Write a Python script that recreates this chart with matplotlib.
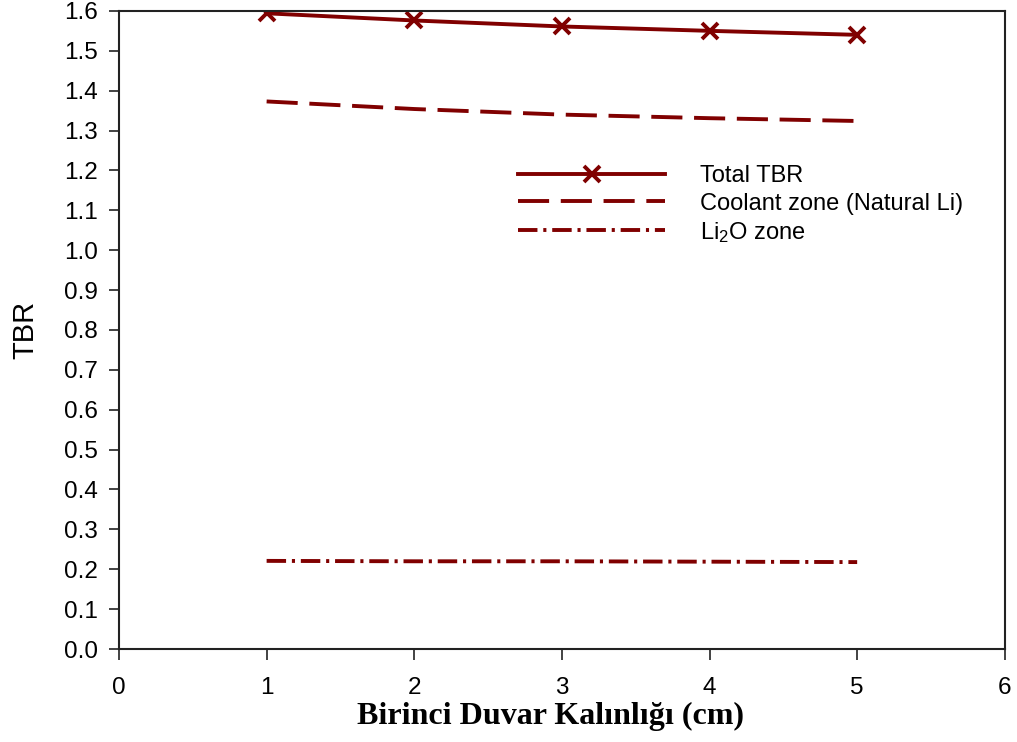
import matplotlib
matplotlib.use("Agg")
import matplotlib.pyplot as plt

plt.rcParams['font.family'] = ['Liberation Sans', 'DejaVu Sans']
plt.rcParams['mathtext.default'] = 'regular'

# first wall thickness (cm)
thickness = [1, 2, 3, 4, 5]
total_tbr = [1.594, 1.576, 1.561, 1.550, 1.540]
coolant_tbr = [1.373, 1.354, 1.340, 1.331, 1.324]
li2o_tbr = [0.221, 0.220, 0.220, 0.219, 0.218]

red = '#800000'

fig = plt.figure(figsize=(10.17, 7.42), dpi=100)
ax = fig.add_axes([0.117, 0.1253, 0.871, 0.86])

ax.plot(thickness, total_tbr, color=red, lw=2.8, marker='x', ms=11, mew=2.8,
        label='Total TBR')
ax.plot(thickness, coolant_tbr, color=red, lw=2.8, dashes=(8, 3),
        label='Coolant zone (Natural Li)')
ax.plot(thickness, li2o_tbr, color=red, lw=2.8, dashes=(5, 1.5, 0.8, 1.5),
        label='Li$_2$O zone')

ax.set_xlim(0, 6)
ax.set_ylim(0, 1.6)
ax.set_xticks(range(0, 7))
ax.set_yticks([i / 10 for i in range(17)])
ax.set_yticklabels([f"{i / 10:.1f}" for i in range(17)])
ax.tick_params(axis='both', direction='out', labelsize=17.5, width=1.2, color='#222222')
ax.tick_params(axis='y', length=7, pad=8)
ax.tick_params(axis='x', length=8, pad=12)
for s in ax.spines.values():
    s.set_linewidth(1.5)
    s.set_color('#222222')

ax.set_ylabel('TBR', fontsize=21)
ax.yaxis.set_label_coords(-0.09, 0.5)
ax.set_xlabel('Birinci Duvar Kalınlığı (cm)', fontsize=23, fontweight='bold',
              family='Liberation Serif')
ax.xaxis.set_label_coords(0.487, -0.083)

ax.legend(loc='upper left', bbox_to_anchor=(0.451, 0.758), frameon=False,
          fontsize=17, handlelength=6.2, handletextpad=1.5, labelspacing=0.22,
          numpoints=1, borderaxespad=0, borderpad=0)

fig.savefig('out.png', dpi=100)
